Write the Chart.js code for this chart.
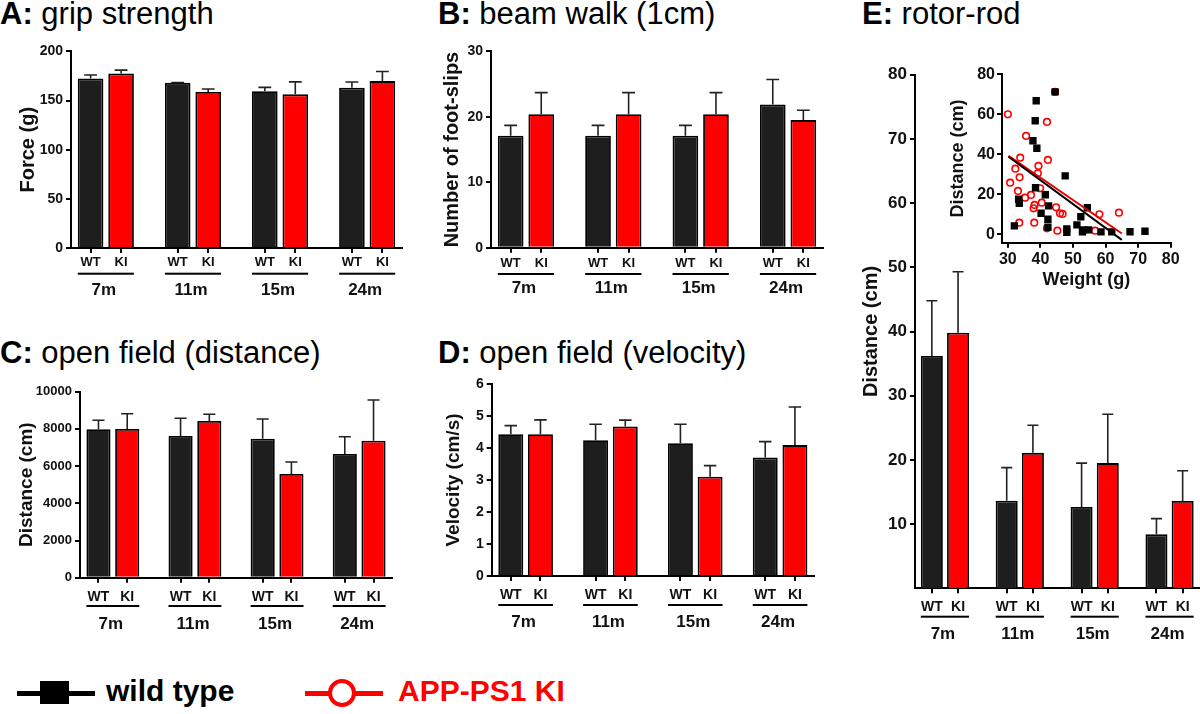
<!DOCTYPE html>
<html>
<head>
<meta charset="utf-8">
<script src="https://cdn.jsdelivr.net/npm/chart.js@4.4.1/dist/chart.umd.min.js"></script>
<style>
  body { margin: 0; width: 1200px; height: 714px; position: relative; overflow: hidden; background: #fff;
         font-family: 'Liberation Sans', Arial, sans-serif; }
  canvas { position: absolute; }
  .title { position: absolute; font-size: 31px; line-height: 31px; color: #000; white-space: nowrap; }
  .legend-text { position: absolute; font-size: 30px; line-height: 30px; font-weight: bold; white-space: nowrap; }
  .legend-line { position: absolute; height: 5px; width: 78px; top: 690.5px; }
</style>
</head>
<body>

<div class="title" style="left:0;top:-2px"><b>A:</b> grip strength</div>
<div class="title" style="left:438px;top:-2px"><b>B:</b> beam walk (1cm)</div>
<div class="title" style="left:0;top:337px"><b>C:</b> open field (distance)</div>
<div class="title" style="left:438px;top:337px"><b>D:</b> open field (velocity)</div>
<div class="title" style="left:862px;top:-2px"><b>E:</b> rotor-rod</div>

<canvas id="grip" width="420" height="270" style="left:0;top:40px"></canvas>
<canvas id="beam" width="420" height="270" style="left:420px;top:40px"></canvas>
<canvas id="distance" width="420" height="270" style="left:0;top:380px"></canvas>
<canvas id="velocity" width="420" height="280" style="left:420px;top:370px"></canvas>
<canvas id="rotarod" width="360" height="600" style="left:840px;top:60px"></canvas>
<canvas id="inset" width="250" height="235" style="left:940px;top:62px"></canvas>

<!-- figure legend -->
<div class="legend-line" style="left:17px;background:#000"></div>
<div style="position:absolute;left:40px;top:681px;width:29px;height:23px;background:#000"></div>
<div class="legend-text" style="left:106px;top:675.6px;color:#000">wild type</div>
<div class="legend-line" style="left:305px;background:#f00"></div>
<div style="position:absolute;left:328px;top:679px;width:28px;height:28px;box-sizing:border-box;border:4.5px solid #f00;border-radius:50%;background:#fff"></div>
<div class="legend-text" style="left:398px;top:675.6px;color:#f00">APP-PS1 KI</div>

<script>
// Age groups and genotypes
const ages = ['7m', '11m', '15m', '24m'];
const genotypes = ['WT', 'KI'];

// A: grip strength, force (g)
const gripWT = [172.4, 168.0, 159.4, 163.0];
const gripWTErr = [3.6, 0.4, 4.0, 5.8];
const gripKI = [177.5, 158.7, 156.3, 169.8];
const gripKIErr = [3.5, 3.0, 12.7, 9.7];

// B: beam walk, number of foot-slips
const beamWT = [17.1, 17.1, 17.1, 21.9];
const beamWTErr = [1.6, 1.6, 1.6, 3.8];
const beamKI = [20.4, 20.4, 20.4, 19.5];
const beamKIErr = [3.3, 3.3, 3.3, 1.5];

// C: open field, distance (cm)
const distWT = [7978, 7618, 7473, 6650];
const distWTErr = [484, 952, 1059, 930];
const distKI = [7995, 8424, 5575, 7365];
const distKIErr = [822, 361, 645, 2188];

// D: open field, velocity (cm/s)
const veloWT = [4.43, 4.24, 4.15, 3.70];
const veloWTErr = [0.27, 0.50, 0.59, 0.50];
const veloKI = [4.43, 4.67, 3.10, 4.09];
const veloKIErr = [0.45, 0.20, 0.35, 1.19];

// E: rotor-rod, distance (cm)
const rodWT = [36.2, 13.65, 12.66, 8.4];
const rodWTErr = [8.6, 5.15, 6.84, 2.45];
const rodKI = [39.8, 21.1, 19.5, 13.6];
const rodKIErr = [9.5, 4.3, 7.6, 4.7];

// E inset: distance vs weight, per animal
const wtWeight = [44.5, 38.7, 38.4, 37.7, 38.9, 47.6, 38.5, 41.5, 33.3, 33.5, 42.5, 54.4, 40.2, 42.3,
                  52.4, 32.0, 42.3, 51.2, 48.1, 48.1, 53.2, 54.8, 52.9, 58.6, 61.9, 67.5, 72.1];
const wtDistance = [71.2, 66.8, 56.8, 46.8, 43.0, 29.2, 23.3, 19.8, 17.5, 15.5, 14.2, 13.3, 10.5, 7.5,
                    8.8, 4.2, 3.5, 4.7, 2.7, 1.0, 2.2, 2.2, 1.3, 1.2, 1.2, 1.3, 1.5];
const kiWeight = [30.0, 44.5, 42.0, 35.6, 33.8, 42.3, 32.3, 39.4, 39.2, 33.6, 30.7, 33.1, 39.9, 37.1,
                  35.3, 38.2, 37.9, 40.4, 44.8, 46.0, 46.8, 58.1, 64.1, 33.5, 38.1, 42.0, 45.2, 56.8];
const kiDistance = [60.0, 71.2, 56.2, 49.2, 38.3, 37.2, 32.8, 34.2, 30.5, 28.5, 25.8, 21.7, 23.0, 19.7,
                    18.3, 14.7, 13.0, 15.8, 13.5, 10.5, 10.2, 10.0, 10.8, 5.8, 5.8, 3.0, 1.8, 1.8];
// regression lines (end points)
const wtFitWeight = [30.2, 65.0];
const wtFitDistance = [38.8, -2.8];
const kiFitWeight = [30.2, 65.0];
const kiFitDistance = [39.3, 0.4];
const insetXTicks = [30, 40, 50, 60, 70, 80];
const insetYTicks = [0, 20, 40, 60, 80];

const FONT = "'Liberation Sans', Arial, sans-serif";
Chart.defaults.font.family = FONT;
Chart.defaults.color = '#111';

// distance of each bar from its group centre, in group units
const BAR_SHIFT = 0.175;

// Upper error bars (SEM)
const errorBars = {
    id: 'errorBars',
    afterDatasetsDraw(chart) {
        const ctx = chart.ctx;
        const yScale = chart.scales.y;
        chart.data.datasets.forEach((ds, i) => {
            const meta = chart.getDatasetMeta(i);
            meta.data.forEach((bar, j) => {
                const err = ds.errors[j];
                if (!err) return;
                const top = yScale.getPixelForValue(ds.data[j].y + err);
                const half = bar.width / 4;
                ctx.save();
                ctx.strokeStyle = '#222';
                ctx.lineWidth = 1.6;
                ctx.beginPath();
                ctx.moveTo(bar.x, bar.y);
                ctx.lineTo(bar.x, top);
                ctx.moveTo(bar.x - half, top);
                ctx.lineTo(bar.x + half, top);
                ctx.stroke();
                ctx.restore();
            });
        });
    }
};

// Underline + age label under each WT/KI pair
const groupAxis = {
    id: 'groupAxis',
    afterDraw(chart, args, opts) {
        const ctx = chart.ctx;
        const base = chart.scales.x.top;
        const wtBars = chart.getDatasetMeta(0).data;
        const kiBars = chart.getDatasetMeta(1).data;
        ctx.save();
        ages.forEach((age, g) => {
            const x1 = wtBars[g].x - wtBars[g].width / 2;
            const x2 = kiBars[g].x + kiBars[g].width / 2;
            ctx.fillStyle = '#000';
            ctx.fillRect(x1, base + opts.lineDy - 1, x2 - x1, 2);
            ctx.fillStyle = '#111';
            ctx.font = 'bold ' + opts.size + 'px ' + FONT;
            ctx.textAlign = 'center';
            ctx.textBaseline = 'middle';
            ctx.fillText(age, (x1 + x2) / 2 - 2, base + opts.labelDy);
        });
        ctx.restore();
    }
};

function toPoints(values, shift) {
    return values.map((v, g) => ({ x: g + shift, y: v }));
}

function barPanel(id, p) {
    const tickPositions = [];
    ages.forEach((a, g) => tickPositions.push(g - BAR_SHIFT, g + BAR_SHIFT));

    return new Chart(document.getElementById(id), {
        type: 'bar',
        data: {
            datasets: [{
                label: 'wild type',
                data: toPoints(p.wt, -BAR_SHIFT),
                errors: p.wtErr,
                backgroundColor: '#1e1e1e',
                borderColor: '#000',
                borderWidth: 1.8,
                grouped: false,
                categoryPercentage: 1,
                barPercentage: 0.84
            }, {
                label: 'APP-PS1 KI',
                data: toPoints(p.ki, BAR_SHIFT),
                errors: p.kiErr,
                backgroundColor: '#ff0000',
                borderColor: '#000',
                borderWidth: 1.8,
                grouped: false,
                categoryPercentage: 1,
                barPercentage: 0.84
            }]
        },
        options: {
            responsive: false,
            animation: false,
            layout: { padding: { left: 0, top: p.padTop, right: p.padRight, bottom: 0 } },
            plugins: {
                legend: { display: false },
                tooltip: { enabled: false },
                groupAxis: { lineDy: p.lineDy, labelDy: p.ageDy, size: 17 }
            },
            scales: {
                x: {
                    type: 'linear',
                    min: -0.4,
                    max: ages.length - 0.6,
                    offset: false,
                    afterBuildTicks: axis => { axis.ticks = tickPositions.map(v => ({ value: v })); },
                    afterFit: axis => { axis.height = p.xHeight; },
                    ticks: {
                        autoSkip: false,
                        maxRotation: 0,
                        padding: p.catPad,
                        color: '#111',
                        font: { size: p.catSize, weight: 'bold' },
                        callback: (value, index) => genotypes[index % 2]
                    },
                    grid: { offset: false, drawOnChartArea: false, tickLength: 5, color: '#000', lineWidth: 2 },
                    border: { color: '#000', width: 2 }
                },
                y: {
                    min: 0,
                    max: p.yMax,
                    afterFit: axis => { axis.width = p.yWidth; },
                    ticks: {
                        stepSize: p.yStep,
                        padding: 3,
                        color: '#111',
                        font: { size: p.tickSize, weight: 'bold' },
                        callback: v => (p.hideZero && v === 0) ? null : v
                    },
                    grid: { drawOnChartArea: false, tickLength: 5, color: '#000', lineWidth: 2 },
                    border: { color: '#000', width: 2 },
                    title: {
                        display: true,
                        text: p.yTitle,
                        color: '#111',
                        font: { size: p.titleSize, weight: 'bold' },
                        padding: { top: p.titlePad, bottom: 0 }
                    }
                }
            }
        },
        plugins: [errorBars, groupAxis]
    });
}

barPanel('grip', {
    wt: gripWT, wtErr: gripWTErr, ki: gripKI, kiErr: gripKIErr,
    yMax: 200, yStep: 50, yTitle: 'Force (g)',
    yWidth: 71, xHeight: 62, padTop: 9.3, padRight: 18,
    titlePad: 16, titleSize: 20, tickSize: 14,
    catSize: 13, catPad: 1.5, lineDy: 25.7, ageDy: 42.3
});

barPanel('beam', {
    wt: beamWT, wtErr: beamWTErr, ki: beamKI, kiErr: beamKIErr,
    yMax: 30, yStep: 10, yTitle: 'Number of foot-slips',
    yWidth: 71, xHeight: 62.3, padTop: 9.3, padRight: 17,
    titlePad: 20, titleSize: 20, tickSize: 14,
    catSize: 13, catPad: 2.5, lineDy: 26.3, ageDy: 40.3
});

barPanel('distance', {
    wt: distWT, wtErr: distWTErr, ki: distKI, kiErr: distKIErr,
    yMax: 10000, yStep: 2000, yTitle: 'Distance (cm)',
    yWidth: 80, xHeight: 72.3, padTop: 11.7, padRight: 28,
    titlePad: 15.6, titleSize: 19, tickSize: 13,
    catSize: 14, catPad: 5.6, lineDy: 28.3, ageDy: 46.6
});

barPanel('velocity', {
    wt: veloWT, wtErr: veloWTErr, ki: veloKI, kiErr: veloKIErr,
    yMax: 6, yStep: 1, yTitle: 'Velocity (cm/s)',
    yWidth: 71.7, xHeight: 74, padTop: 14, padRight: 26,
    titlePad: 22.6, titleSize: 19, tickSize: 14,
    catSize: 14, catPad: 5.6, lineDy: 29, ageDy: 46
});

barPanel('rotarod', {
    wt: rodWT, wtErr: rodWTErr, ki: rodKI, kiErr: rodKIErr,
    yMax: 80, yStep: 10, yTitle: 'Distance (cm)', hideZero: true,
    yWidth: 75, xHeight: 71.7, padTop: 14.7, padRight: 0.5,
    titlePad: 19.5, titleSize: 20, tickSize: 17,
    catSize: 14, catPad: 5, lineDy: 28.4, ageDy: 45.7
});

// Inset scatter: distance against body weight
function pairs(xs, ys) {
    return xs.map((x, i) => ({ x: x, y: ys[i] }));
}

new Chart(document.getElementById('inset'), {
    type: 'scatter',
    data: {
        datasets: [{
            label: 'wild type fit',
            data: pairs(wtFitWeight, wtFitDistance),
            showLine: true,
            borderColor: '#000',
            borderWidth: 2,
            pointRadius: 0
        }, {
            label: 'APP-PS1 KI fit',
            data: pairs(kiFitWeight, kiFitDistance),
            showLine: true,
            borderColor: '#e00000',
            borderWidth: 2,
            pointRadius: 0
        }, {
            label: 'wild type',
            data: pairs(wtWeight, wtDistance),
            pointStyle: 'rect',
            pointRadius: 5.2,
            backgroundColor: '#000',
            borderColor: '#000',
            borderWidth: 0
        }, {
            label: 'APP-PS1 KI',
            data: pairs(kiWeight, kiDistance),
            pointStyle: 'circle',
            pointRadius: 3.3,
            backgroundColor: 'rgba(255,255,255,0)',
            borderColor: '#ff0000',
            borderWidth: 1.6
        }]
    },
    options: {
        responsive: false,
        animation: false,
        layout: { padding: { left: 0, top: 12.3, right: 19.3, bottom: 0 } },
        plugins: { legend: { display: false }, tooltip: { enabled: false } },
        scales: {
            x: {
                type: 'linear',
                min: 28.2,
                max: 80,
                afterBuildTicks: axis => { axis.ticks = insetXTicks.map(v => ({ value: v })); },
                afterFit: axis => { axis.height = 54.3; },
                ticks: { autoSkip: false, maxRotation: 0, padding: 2, color: '#111', font: { size: 16, weight: 'bold' } },
                grid: { drawOnChartArea: false, tickLength: 5, color: '#000', lineWidth: 2 },
                border: { color: '#000', width: 2 },
                title: { display: true, text: 'Weight (g)', color: '#111', font: { size: 18, weight: 'bold' }, padding: { top: 0, bottom: 6.2 } }
            },
            y: {
                min: -4.2,
                max: 80,
                afterBuildTicks: axis => { axis.ticks = insetYTicks.map(v => ({ value: v })); },
                afterFit: axis => { axis.width = 62; },
                ticks: { padding: 2, color: '#111', font: { size: 16, weight: 'bold' } },
                grid: { drawOnChartArea: false, tickLength: 5, color: '#000', lineWidth: 2 },
                border: { color: '#000', width: 2 },
                title: { display: true, text: 'Distance (cm)', color: '#111', font: { size: 18, weight: 'bold' }, padding: { top: 7.2, bottom: 0 } }
            }
        }
    }
});
</script>
</body>
</html>
